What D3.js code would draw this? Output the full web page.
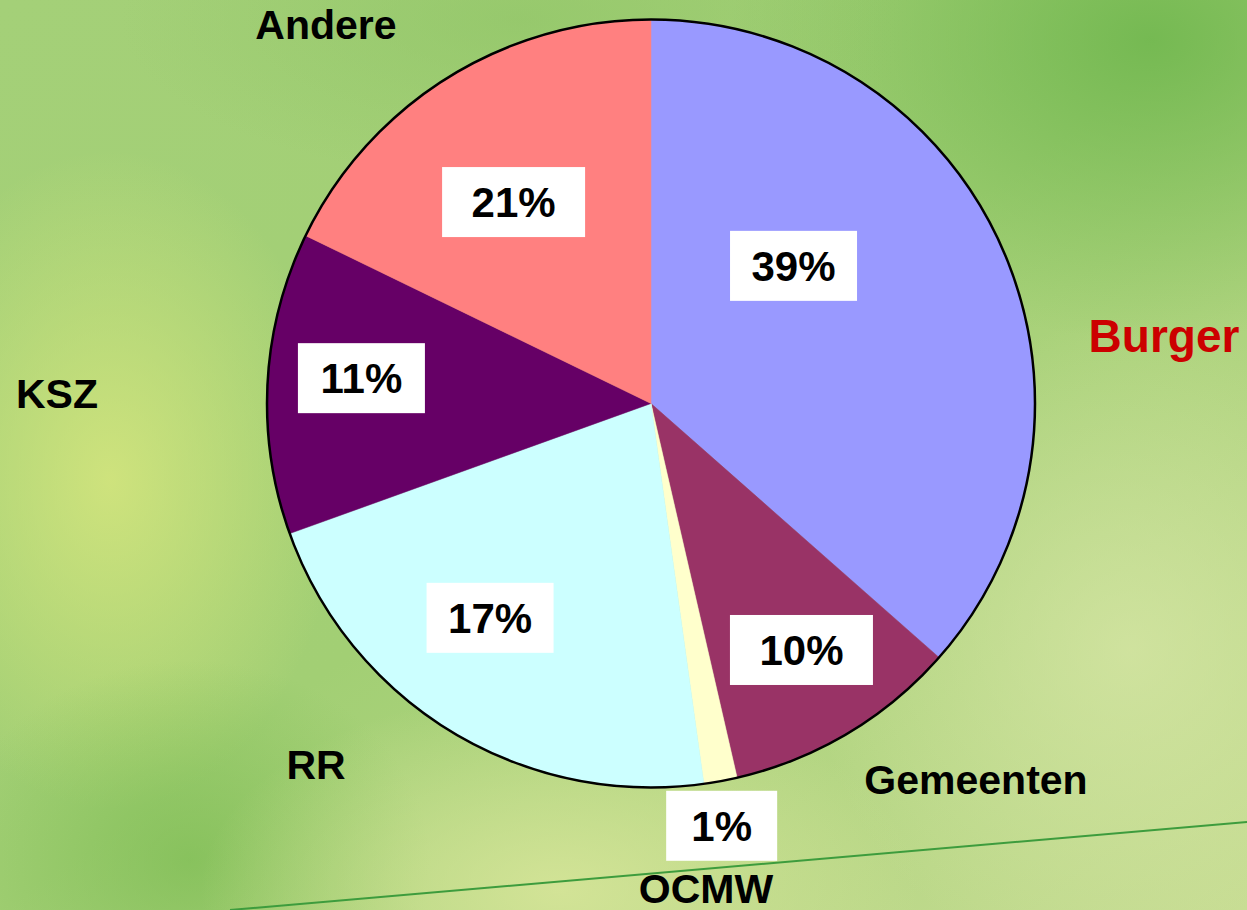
<!DOCTYPE html>
<html>
<head>
<meta charset="utf-8">
<script src="https://cdn.jsdelivr.net/npm/d3@7"></script>
<style>
  html, body { margin: 0; padding: 0; overflow: hidden; }
  svg { display: block; }
</style>
</head>
<body>
<svg id="chart" width="1247" height="910"></svg>
<script>
// slices clockwise from 12 o'clock
const categories = ["Burger", "Gemeenten", "OCMW", "RR", "KSZ", "Andere"];
const values = [36.5, 9.9, 1.4, 21.7, 12.7, 17.8];       // slice sizes as drawn
const pctLabels = ["39%", "10%", "1%", "17%", "11%", "21%"]; // label text as printed
const colors = ["#9999FF", "#993366", "#FFFFCC", "#CCFFFF", "#660066", "#FF8080"];

const W = 1247, H = 910;
const cx = 651, cy = 403.5, R = 384;

// label placement (angle in degrees clockwise from top, r as a fraction of R)
const pctPos = [
  {a: 46.0, r: 0.516, w: 127}, {a: 148.6, r: 0.752, w: 143}, {a: 170.5, r: 1.115, w: 111},
  {a: 216.9, r: 0.698, w: 127}, {a: 275.0, r: 0.757, w: 127}, {a: 325.7, r: 0.635, w: 143}
];
const catPos = [
  {x: 1164, y: 352}, {x: 976, y: 794}, {x: 706, y: 903},
  {x: 316, y: 779}, {x: 57, y: 408}, {x: 326, y: 39}
];

const svg = d3.select("#chart");
const defs = svg.append("defs");

// background: green texture approximated with a few soft gradients
const base = defs.append("linearGradient").attr("id", "bg")
  .attr("x1", 0).attr("y1", 0).attr("x2", 1).attr("y2", 1);
base.append("stop").attr("offset", 0).attr("stop-color", "#a4d078");
base.append("stop").attr("offset", 0.5).attr("stop-color", "#a2cf74");
base.append("stop").attr("offset", 1).attr("stop-color", "#c6dc92");
svg.append("rect").attr("width", W).attr("height", H).attr("fill", "url(#bg)");

const glows = [
  {id: "g1", x: 110, y: 480, rx: 230, ry: 330, c: "#d6e67e", o: 0.85},
  {id: "g2", x: 1150, y: 40, rx: 420, ry: 300, c: "#6ab44a", o: 0.8},
  {id: "g3", x: 190, y: 860, rx: 240, ry: 200, c: "#74b84c", o: 0.6},
  {id: "g4", x: 560, y: 890, rx: 360, ry: 200, c: "#dbe79c", o: 0.8},
  {id: "g5", x: 1130, y: 650, rx: 320, ry: 330, c: "#d9e7a8", o: 0.7},
  {id: "g6", x: 520, y: 20, rx: 400, ry: 160, c: "#8ec466", o: 0.6}
];
glows.forEach(g => {
  const rg = defs.append("radialGradient").attr("id", g.id);
  rg.append("stop").attr("offset", 0).attr("stop-color", g.c).attr("stop-opacity", g.o);
  rg.append("stop").attr("offset", 1).attr("stop-color", g.c).attr("stop-opacity", 0);
  svg.append("ellipse").attr("cx", g.x).attr("cy", g.y).attr("rx", g.rx).attr("ry", g.ry)
    .attr("fill", "url(#" + g.id + ")");
});

// thin green decorative line
svg.append("line").attr("x1", 230).attr("y1", 910).attr("x2", 1247).attr("y2", 822)
  .attr("stroke", "#3d9c3d").attr("stroke-width", 2);

// pie
const pie = d3.pie().sort(null).value(d => d.v);
const arc = d3.arc().innerRadius(0).outerRadius(R);
const arcs = pie(categories.map((c, i) => ({c: c, v: values[i], i: i})));

const g = svg.append("g").attr("transform", `translate(${cx},${cy})`);
g.selectAll("path.slice").data(arcs).enter().append("path")
  .attr("class", "slice")
  .attr("d", arc)
  .attr("fill", d => colors[d.data.i])
  .attr("stroke", d => colors[d.data.i])
  .attr("stroke-width", 0.5);
g.append("circle").attr("r", R).attr("fill", "none")
  .attr("stroke", "#000").attr("stroke-width", 2.5);

// percentage boxes
const font = "'Liberation Sans', Arial, Helvetica, sans-serif";
const lab = g.selectAll("g.pct").data(arcs).enter().append("g")
  .attr("class", "pct")
  .attr("transform", d => {
    const p = pctPos[d.data.i];
    const a = p.a * Math.PI / 180;
    return `translate(${Math.sin(a) * p.r * R},${-Math.cos(a) * p.r * R})`;
  });
lab.append("rect")
  .attr("x", d => -pctPos[d.data.i].w / 2).attr("y", -35)
  .attr("width", d => pctPos[d.data.i].w).attr("height", 70)
  .attr("fill", "#fff");
lab.append("text")
  .attr("text-anchor", "middle").attr("y", 15)
  .attr("font-family", font).attr("font-weight", "bold").attr("font-size", 42)
  .attr("fill", "#000")
  .text(d => pctLabels[d.data.i]);

// category names
svg.selectAll("text.cat").data(categories).enter().append("text")
  .attr("class", "cat")
  .attr("x", (d, i) => catPos[i].x).attr("y", (d, i) => catPos[i].y)
  .attr("text-anchor", "middle")
  .attr("font-family", font).attr("font-weight", "bold")
  .attr("font-size", d => d === "Burger" ? 46 : 41)
  .attr("fill", d => d === "Burger" ? "#CC0000" : "#000")
  .text(d => d);
</script>
</body>
</html>
